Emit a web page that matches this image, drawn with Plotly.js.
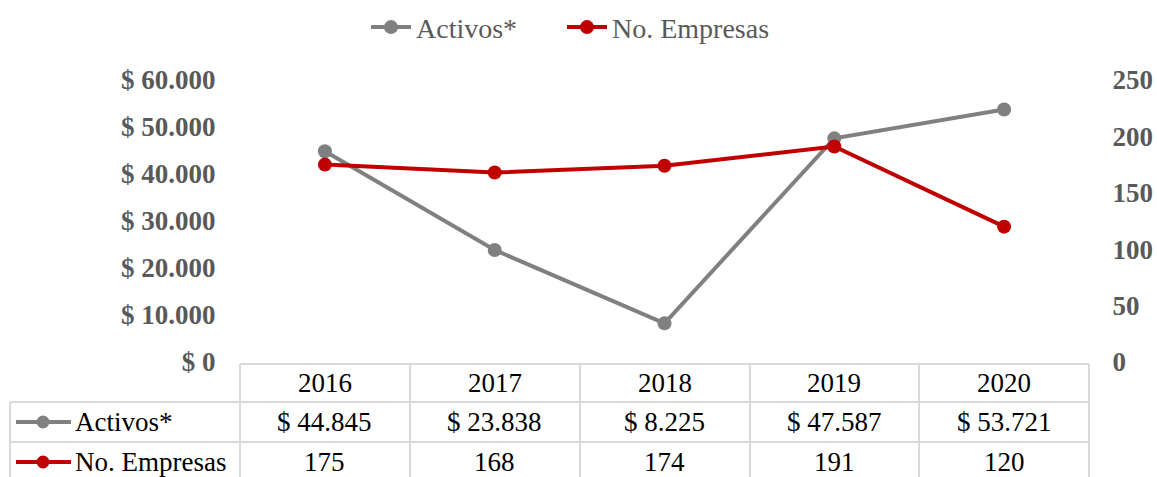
<!DOCTYPE html>
<html>
<head>
<meta charset="utf-8">
<script src="https://cdn.plot.ly/plotly-3.0.1.min.js"></script>
<style>html,body{margin:0;padding:0;background:#fff;}#chart{width:1157px;height:477px;}</style>
</head>
<body>
<div id="chart"></div>
<script>
const years = ["2016", "2017", "2018", "2019", "2020"];
const activos = [44845, 23838, 8225, 47587, 53721];
const empresas = [175, 168, 174, 191, 120];
const leftTicks = [0, 10000, 20000, 30000, 40000, 50000, 60000];
const rightTicks = [0, 50, 100, 150, 200, 250];
const seriesNames = ["Activos*", "No. Empresas"];

const W = 1157, H = 477;
const L = 240, R = 1089, T = 80, B = 362;
const px = x => (x - L) / (R - L);
const py = y => (B - y) / (B - T);

function thousands(v) {
  return String(v).replace(/\B(?=(\d{3})+(?!\d))/g, ".");
}
function money(v) { return "$ " + thousands(v); }

const xs = years.map((_, i) => i);
const gray = "#808080", red = "#C00000";
const serif = "Liberation Serif";

const traces = [
  {x: xs, y: activos, name: seriesNames[0], type: "scatter", mode: "lines+markers", legend: "legend",
   line: {color: gray, width: 4}, marker: {color: gray, size: 14}, yaxis: "y"},
  {x: xs, y: empresas, name: seriesNames[1], type: "scatter", mode: "lines+markers", legend: "legend2",
   line: {color: red, width: 4}, marker: {color: red, size: 14}, yaxis: "y2"}
];

const grid = "#D9D9D9";
const shapes = [];
function seg(x0, y0, x1, y1) {
  shapes.push({type: "line", xref: "paper", yref: "paper", x0: px(x0), y0: py(y0), x1: px(x1), y1: py(y1),
    line: {color: grid, width: 2}});
}
const colEdges = [240, 410, 580, 750, 919, 1089];
seg(240, 364, 1089, 364);
seg(10, 402, 1089, 402);
seg(10, 442, 1089, 442);
seg(10, 402, 10, 480);
colEdges.forEach(c => seg(c, 364, c, 480));

// legend keys in row header cells
const keyColors = [gray, red];
const rowCenters = [422, 462];
keyColors.forEach((c, k) => {
  const yc = rowCenters[k];
  shapes.push({type: "line", xref: "paper", yref: "paper", x0: px(16), x1: px(71), y0: py(yc), y1: py(yc),
    line: {color: c, width: 4}});
  shapes.push({type: "circle", xref: "paper", yref: "paper", x0: px(36.5), x1: px(49.5), y0: py(yc - 6.5), y1: py(yc + 6.5),
    fillcolor: c, line: {color: c, width: 0}});
});

const annotations = [];
const cellFont = {family: serif, size: 27, color: "#000000"};
years.forEach((yr, i) => {
  annotations.push({x: i, xref: "x", y: py(383), yref: "paper", text: yr, showarrow: false, font: cellFont, xanchor: "center", yanchor: "middle"});
  annotations.push({x: i, xref: "x", y: py(rowCenters[0]), yref: "paper", text: money(activos[i]), showarrow: false, font: cellFont, xanchor: "center", yanchor: "middle"});
  annotations.push({x: i, xref: "x", y: py(rowCenters[1]), yref: "paper", text: String(empresas[i]), showarrow: false, font: cellFont, xanchor: "center", yanchor: "middle"});
});
seriesNames.forEach((n, k) => {
  annotations.push({x: px(73), xref: "paper", y: py(rowCenters[k]), yref: "paper", text: n, showarrow: false, font: cellFont, xanchor: "left", yanchor: "middle"});
});

const tickFont = {family: serif, size: 27, color: "#595959", weight: "bold"};
const legFont = {family: serif, size: 28, color: "#595959"};

const layout = {
  width: W, height: H,
  margin: {l: L, r: W - R, t: T, b: H - B, pad: 0},
  paper_bgcolor: "#ffffff", plot_bgcolor: "#ffffff",
  showlegend: true,
  legend: {orientation: "h", x: 366 / W, xanchor: "left", xref: "container", y: 0.995, yref: "container", yanchor: "top",
    font: legFont, itemwidth: 40},
  legend2: {orientation: "h", x: 562 / W, xanchor: "left", xref: "container", y: 0.995, yref: "container", yanchor: "top",
    font: legFont, itemwidth: 40},
  xaxis: {range: [-0.5, 4.5], showgrid: false, zeroline: false, showticklabels: false, showline: false, ticks: "", fixedrange: true},
  yaxis: {range: [0, 60000], tickvals: leftTicks, ticktext: leftTicks.map(money), showgrid: false, zeroline: false,
    showline: false, ticks: "outside", ticklen: 18, tickcolor: "rgba(0,0,0,0)", tickfont: tickFont},
  yaxis2: {range: [0, 250], overlaying: "y", side: "right", tickvals: rightTicks, ticktext: rightTicks.map(String),
    showgrid: false, zeroline: false, showline: false, ticks: "outside", ticklen: 17, tickcolor: "rgba(0,0,0,0)", tickfont: tickFont},
  shapes: shapes,
  annotations: annotations
};

Plotly.newPlot("chart", traces, layout, {displayModeBar: false, staticPlot: true});
</script>
</body>
</html>
